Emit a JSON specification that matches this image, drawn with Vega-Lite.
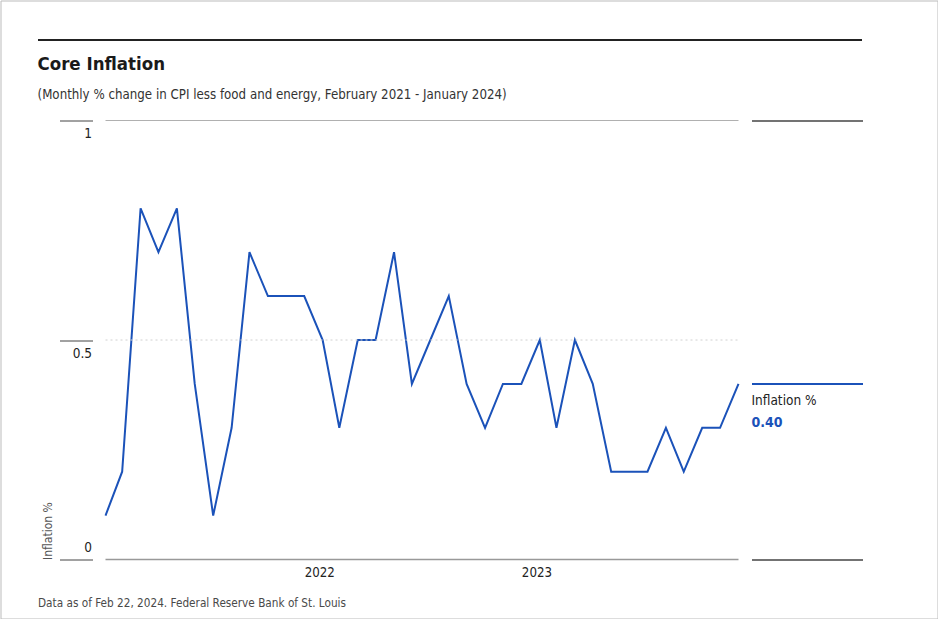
{
  "$schema": "https://vega.github.io/schema/vega-lite/v6.json",
  "width": 937,
  "height": 618,
  "padding": 0.5,
  "autosize": {"type": "none"},
  "background": "white",
  "config": {
    "view": {"stroke": "#bbbbbb", "strokeWidth": 1},
    "font": "DejaVu Sans Condensed"
  },
  "title": {
    "text": "Core Inflation",
    "subtitle": "(Monthly % change in CPI less food and energy, February 2021 - January 2024)",
    "anchor": "start",
    "frame": "group",
    "orient": "top",
    "offset": -101,
    "dx": 37,
    "font": "DejaVu Sans Condensed",
    "fontSize": 18.5,
    "fontWeight": "bold",
    "color": "#1a1a1a",
    "subtitleFont": "DejaVu Sans Condensed",
    "subtitleFontSize": 13.2,
    "subtitleColor": "#333333",
    "subtitlePadding": 16
  },
  "datasets": {
    "cpi": [
      {"date": "2021-02-01", "value": 0.1},
      {"date": "2021-03-01", "value": 0.2},
      {"date": "2021-04-01", "value": 0.8},
      {"date": "2021-05-01", "value": 0.7},
      {"date": "2021-06-01", "value": 0.8},
      {"date": "2021-07-01", "value": 0.4},
      {"date": "2021-08-01", "value": 0.1},
      {"date": "2021-09-01", "value": 0.3},
      {"date": "2021-10-01", "value": 0.7},
      {"date": "2021-11-01", "value": 0.6},
      {"date": "2021-12-01", "value": 0.6},
      {"date": "2022-01-01", "value": 0.6},
      {"date": "2022-02-01", "value": 0.5},
      {"date": "2022-03-01", "value": 0.3},
      {"date": "2022-04-01", "value": 0.5},
      {"date": "2022-05-01", "value": 0.5},
      {"date": "2022-06-01", "value": 0.7},
      {"date": "2022-07-01", "value": 0.4},
      {"date": "2022-08-01", "value": 0.5},
      {"date": "2022-09-01", "value": 0.6},
      {"date": "2022-10-01", "value": 0.4},
      {"date": "2022-11-01", "value": 0.3},
      {"date": "2022-12-01", "value": 0.4},
      {"date": "2023-01-01", "value": 0.4},
      {"date": "2023-02-01", "value": 0.5},
      {"date": "2023-03-01", "value": 0.3},
      {"date": "2023-04-01", "value": 0.5},
      {"date": "2023-05-01", "value": 0.4},
      {"date": "2023-06-01", "value": 0.2},
      {"date": "2023-07-01", "value": 0.2},
      {"date": "2023-08-01", "value": 0.2},
      {"date": "2023-09-01", "value": 0.3},
      {"date": "2023-10-01", "value": 0.2},
      {"date": "2023-11-01", "value": 0.3},
      {"date": "2023-12-01", "value": 0.3},
      {"date": "2024-01-01", "value": 0.4}
    ]
  },
  "resolve": {"scale": {"x": "independent"}, "axis": {"x": "independent"}},
  "layer": [
    {
      "data": {"name": "cpi"},
      "resolve": {"axis": {"y": "independent"}},
      "layer": [
        {
          "mark": {"type": "line", "color": "#1b52b9", "strokeWidth": 2},
          "encoding": {
            "x": {
              "field": "date", "type": "temporal",
              "scale": {"type": "utc", "range": [105, 738], "nice": false},
              "axis": {
                "orient": "bottom", "offset": -60, "domain": false, "ticks": false, "grid": false,
                "values": [{"year": 2022, "month": 1, "date": 1, "utc": true}, {"year": 2023, "month": 1, "date": 1, "utc": true}],
                "format": "%Y", "labelAlign": "left", "labelPadding": 8,
                "labelFontSize": 13.2, "labelColor": "#222222",
                "title": "Data as of Feb 22, 2024. Federal Reserve Bank of St. Louis",
                "titleAnchor": "start", "titleAlign": "left", "titleBaseline": "top",
                "titleX": 37, "titleY": 39, "titleFontSize": 11.7, "titleFontWeight": "normal", "titleColor": "#4a4a4a"
              }
            },
            "y": {
              "field": "value", "type": "quantitative",
              "scale": {"domain": [0, 1], "range": [559, 120], "nice": false},
              "axis": {
                "orient": "left", "offset": -92, "domain": false, "grid": false,
                "values": [0, 0.5, 1], "tickSize": 33, "tickColor": "#444444", "tickWidth": 1,
                "labelAlign": "right", "labelPadding": -32, "labelFontSize": 13.5, "labelColor": "#222222",
                "labelBaseline": {"condition": {"test": "datum.value == 0", "value": "bottom"}, "value": "top"},
                "labelOffset": {"condition": {"test": "datum.value == 0", "value": -5}, "value": 6},
                "labelFlush": false,
                "format": "~g",
                "title": "Inflation %", "titleAngle": -90, "titleAlign": "left", "titleBaseline": "middle",
                "titleX": -45, "titleY": 559, "titleFontSize": 12, "titleFontWeight": "normal", "titleColor": "#555555"
              }
            }
          }
        },
        {
          "mark": {"type": "rule", "color": "#b0b0b0", "strokeWidth": 1},
          "encoding": {
            "x": {"aggregate": "min", "field": "date", "type": "temporal"},
            "x2": {"aggregate": "max", "field": "date"},
            "y": {"datum": 1, "type": "quantitative", "axis": null}
          }
        },
        {
          "mark": {"type": "rule", "color": "#d0d0d0", "strokeWidth": 1, "strokeDash": [2, 3]},
          "encoding": {
            "x": {"aggregate": "min", "field": "date", "type": "temporal"},
            "x2": {"aggregate": "max", "field": "date"},
            "y": {"datum": 0.5, "type": "quantitative", "axis": null}
          }
        },
        {
          "mark": {"type": "rule", "color": "#999999", "strokeWidth": 1.5},
          "encoding": {
            "x": {"aggregate": "min", "field": "date", "type": "temporal"},
            "x2": {"aggregate": "max", "field": "date"},
            "y": {"datum": 0, "type": "quantitative", "axis": null}
          }
        },
        {
          "transform": [{"filter": "year(datum.date) == 2024"}],
          "mark": {"type": "text", "align": "left", "baseline": "top", "dx": 13, "dy": 10, "fontSize": 13.5, "color": "#222222"},
          "encoding": {
            "x": {"field": "date", "type": "temporal"},
            "y": {
              "field": "value", "type": "quantitative",
              "axis": {
                "orient": "right", "offset": -186, "domain": false, "grid": false, "labels": false,
                "values": [0, 0.4, 1], "tickSize": 111,
                "tickColor": {"condition": {"test": "datum.value == 0.4", "value": "#1b52b9"}, "value": "#444444"},
                "tickWidth": {"condition": {"test": "datum.value == 0.4", "value": 2}, "value": 1.3},
                "title": null
              }
            },
            "text": {"value": "Inflation %"}
          }
        },
        {
          "transform": [{"filter": "year(datum.date) == 2024"}],
          "mark": {"type": "text", "align": "left", "baseline": "top", "dx": 13, "dy": 32, "fontSize": 14, "fontWeight": "bold", "color": "#1b52b9"},
          "encoding": {
            "x": {"field": "date", "type": "temporal"},
            "y": {"field": "value", "type": "quantitative", "axis": null},
            "text": {"field": "value", "type": "quantitative", "format": ".2f"}
          }
        }
      ]
    },
    {
      "data": {"name": "cpi"},
      "mark": {"type": "rule", "opacity": 0},
      "encoding": {
        "x": {
          "field": "date", "type": "temporal",
          "scale": {"type": "utc", "range": [37, 861], "nice": false},
          "axis": {"orient": "top", "offset": -39, "domain": true, "domainColor": "#222222", "domainWidth": 2, "ticks": false, "labels": false, "grid": false, "title": null}
        }
      }
    }
  ]
}
